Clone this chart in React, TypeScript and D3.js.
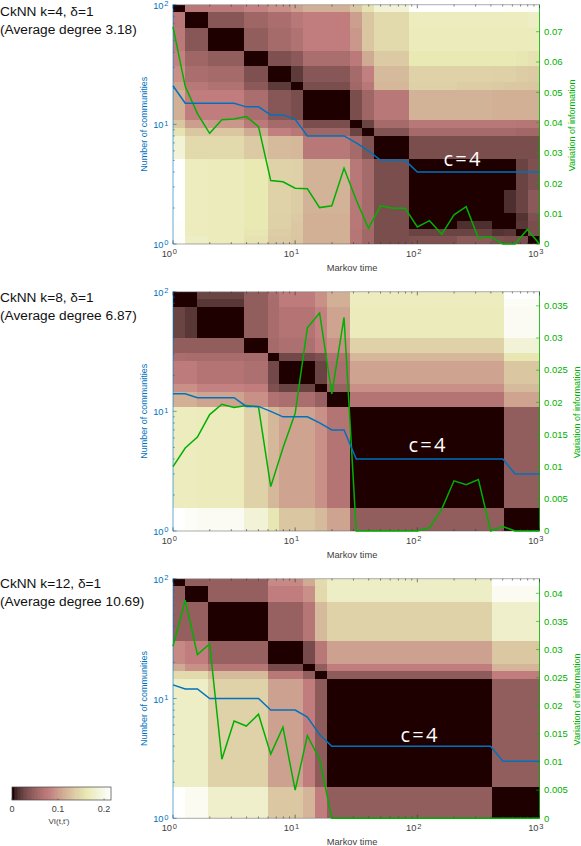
import React from 'react';
import * as d3 from 'd3';

const width = 581;
const height = 846;

const markovTimes = d3.range(31).map((i) => Math.pow(10, i / 10));

// panel 1, CkNN k=4
const title1 = ['CkNN k=4, δ=1', '(Average degree 3.18)'];
const communities1 = [21, 15, 15, 15, 15, 15, 14, 14, 12, 12, 11, 8, 8, 8, 8, 7, 6, 5, 5, 5, 4, 4, 4, 4, 4, 4, 4, 4, 4, 4, 4];
const variation1 = [0.0716, 0.052, 0.043, 0.0365, 0.041, 0.0412, 0.042, 0.0387, 0.0209, 0.0205, 0.0184, 0.0182, 0.012, 0.0126, 0.025, 0.0145, 0.0052, 0.0126, 0.0118, 0.0118, 0.0056, 0.0077, 0.0032, 0.0096, 0.0123, 0.0019, 0.0024, 0, 0, 0.0048, 0];
const ticks1 = [0, 0.01, 0.02, 0.03, 0.04, 0.05, 0.06, 0.07];
const edges1 = [0, 1, 3, 6, 8, 10, 11, 15, 16, 17, 20, 24, 27, 28, 29, 30, 31];
const vi1 = [
	[0, 0.071, 0.073, 0.082, 0.09, 0.101, 0.112, 0.129, 0.155, 0.183, 0.215, 0.215, 0.215, 0.212, 0.212, 0.21],
	[0, 0.037, 0.052, 0.06, 0.071, 0.077, 0.099, 0.129, 0.146, 0.168, 0.168, 0.168, 0.168, 0.168, 0.172],
	[0, 0.043, 0.056, 0.065, 0.077, 0.095, 0.129, 0.146, 0.166, 0.166, 0.166, 0.166, 0.166, 0.166],
	[0, 0.032, 0.039, 0.06, 0.073, 0.108, 0.133, 0.161, 0.161, 0.161, 0.161, 0.159, 0.155],
	[0, 0.017, 0.037, 0.056, 0.08, 0.12, 0.14, 0.14, 0.138, 0.138, 0.135, 0.133],
	[0, 0.03, 0.054, 0.071, 0.118, 0.138, 0.135, 0.133, 0.131, 0.131, 0.129],
	[0, 0.03, 0.052, 0.071, 0.114, 0.114, 0.112, 0.112, 0.112, 0.112],
	[0, 0.022, 0.056, 0.071, 0.071, 0.071, 0.071, 0.069, 0.069],
	[0, 0.034, 0.056, 0.056, 0.056, 0.056, 0.054, 0.054],
	[0, 0.03, 0.03, 0.03, 0.03, 0.03, 0.03],
	[0, 0, 0, 0, 0.022, 0.032],
	[0, 0, 0.011, 0.022, 0.039],
	[0, 0, 0.013, 0.032],
	[0, 0.015, 0.03],
	[0, 0.03],
	[0],
];

// panel 2, CkNN k=8
const title2 = ['CkNN k=8, δ=1', '(Average degree 6.87)'];
const communities2 = [14, 14, 13, 13, 13, 13, 11, 11, 10, 9, 9, 9, 8, 7, 7, 4, 4, 4, 4, 4, 4, 4, 4, 4, 4, 4, 4, 4, 3, 3, 3];
const variation2 = [0.01, 0.0129, 0.0146, 0.0181, 0.0197, 0.0192, 0.0195, 0.0193, 0.0069, 0.0129, 0.0183, 0.0316, 0.0339, 0.0213, 0.0332, 0, 0, 0, 0, 0, 0, 0.0005, 0.0034, 0.0078, 0.0072, 0.008, 0, 0.0007, 0, 0, 0];
const ticks2 = [0, 0.005, 0.01, 0.015, 0.02, 0.025, 0.03, 0.035];
const edges2 = [0, 1, 2, 6, 8, 9, 12, 13, 15, 28, 31];
const vi2 = [
	[0, 0, 0.022, 0.043, 0.06, 0.075, 0.09, 0.112, 0.168, 0.215],
	[0, 0.015, 0.043, 0.058, 0.075, 0.09, 0.112, 0.168, 0.209],
	[0, 0.043, 0.058, 0.067, 0.082, 0.103, 0.166, 0.206],
	[0, 0.056, 0.062, 0.077, 0.09, 0.14, 0.183],
	[0, 0.026, 0.032, 0.065, 0.118, 0.159],
	[0, 0.022, 0.06, 0.103, 0.129],
	[0, 0.047, 0.09, 0.12],
	[0, 0.067, 0.103],
	[0, 0.043],
	[0],
];

// panel 3, CkNN k=12
const title3 = ['CkNN k=12, δ=1', '(Average degree 10.69)'];
const communities3 = [13, 12, 12, 10, 10, 10, 10, 10, 8, 8, 8, 7, 5, 4, 4, 4, 4, 4, 4, 4, 4, 4, 4, 4, 4, 4, 4, 3, 3, 3, 3];
const variation3 = [0.0306, 0.0388, 0.0291, 0.031, 0.0105, 0.0173, 0.0164, 0.0185, 0.0114, 0.0162, 0.005, 0.0147, 0.0105, 0, 0, 0, 0, 0, 0, 0, 0, 0, 0, 0, 0, 0, 0, 0, 0, 0, 0];
const ticks3 = [0, 0.005, 0.01, 0.015, 0.02, 0.025, 0.03, 0.035, 0.04];
const edges3 = [0, 1, 3, 8, 11, 12, 13, 27, 31];
const vi3 = [
	[0, 0.043, 0.045, 0.086, 0.108, 0.148, 0.172, 0.215],
	[0, 0.045, 0.077, 0.09, 0.146, 0.172, 0.204],
	[0, 0.047, 0.069, 0.12, 0.14, 0.176],
	[0, 0.028, 0.071, 0.101, 0.131],
	[0, 0.043, 0.077, 0.116],
	[0, 0.041, 0.077],
	[0, 0.043],
	[0],
];

const colorbarTicks = [0, 0.1, 0.2];

const blue = '#0072BD';
const green = '#00B000';
const gray = '#404040';
const sans = '"Liberation Sans", Arial, sans-serif';

// matlab's pink colormap
const clamp = (v: number) => Math.min(1, Math.max(0, v));
const pink = (t: number) => {
	const r = Math.sqrt((2 * t + clamp((t + 0.0156) / 0.375)) / 3);
	const g = Math.sqrt((2 * t + clamp((t - 0.375) / 0.375)) / 3);
	const b = Math.sqrt((2 * t + clamp((t - 0.75) / 0.25)) / 3);
	return d3.rgb(r * 255, g * 255, b * 255).formatHex();
};
const color = d3.scaleSequential(pink).domain([0, 0.215]);

const left = 173;
const right = 539.5;

function Panel({ top, bottom, title, titleY, communities, variation, ticks, edges, vi, varMax, varLabelX }: any) {
	const xTime = d3.scaleLog().domain([1, 1000]).range([left, right]);
	const yCount = d3.scaleLog().domain([1, 100]).range([bottom, top]);
	const yVar = d3.scaleLinear().domain([0, varMax]).range([bottom, top]);
	const xCell = d3.scaleLinear().domain([0, 31]).range([left, right]);
	const yCell = d3.scaleLinear().domain([0, 31]).range([top, bottom]);

	const blueLine = d3.line<number>().x((_, i) => xTime(markovTimes[i])).y((d) => yCount(d));
	const greenLine = d3.line<number>().x((_, i) => xTime(markovTimes[i])).y((d) => yVar(d));

	const blocks: any[] = [];
	vi.forEach((row: number[], a: number) => {
		row.forEach((v, k) => {
			const b = a + k;
			blocks.push({ a, b, v });
			if (a !== b) blocks.push({ a: b, b: a, v });
		});
	});

	const majorTimes = [1, 10, 100, 1000];
	const majorCounts = [1, 10, 100];
	const isMajor = (t: number) => Math.abs(Math.log10(t) - Math.round(Math.log10(t))) < 1e-6;

	return (
		<g>
			<text fontFamily={sans} fontSize={13.7} fill="#111">
				<tspan x={0} y={titleY}>{title[0]}</tspan>
				<tspan x={0} y={titleY + 18}>{title[1]}</tspan>
			</text>

			{blocks.map((d, i) => (
				<rect
					key={i}
					x={xCell(edges[d.b])}
					y={yCell(edges[d.a])}
					width={xCell(edges[d.b + 1]) - xCell(edges[d.b])}
					height={yCell(edges[d.a + 1]) - yCell(edges[d.a])}
					fill={color(d.v)}
					shapeRendering="crispEdges"
				/>
			))}

			{/* box */}
			<line x1={left} x2={right} y1={top} y2={top} stroke="#888" strokeWidth={0.7} />
			<line x1={left} x2={right} y1={bottom} y2={bottom} stroke="#555" strokeWidth={0.5} />
			<line x1={left} x2={left} y1={top} y2={bottom} stroke={blue} strokeOpacity={0.6} strokeWidth={1} />
			<line x1={right} x2={right} y1={top} y2={bottom} stroke={green} strokeWidth={0.8} />

			{/* time ticks */}
			{xTime.ticks().map((t) => (
				<g key={t} stroke="#333" strokeWidth={0.6}>
					<line x1={xTime(t)} x2={xTime(t)} y1={bottom} y2={bottom - (isMajor(t) ? 3.6 : 1.8)} />
					<line x1={xTime(t)} x2={xTime(t)} y1={top} y2={top + (isMajor(t) ? 3.6 : 1.8)} />
				</g>
			))}
			{majorTimes.map((t) => (
				<text key={t} x={xTime(t) + 4} y={bottom + 13} fontFamily={sans} fontSize={9.3} fill={gray} textAnchor="end">
					10
					<tspan dy={-2.8} dx={0.8} fontSize={7.5}>{Math.round(Math.log10(t))}</tspan>
				</text>
			))}
			<text x={352} y={bottom + 27} fontFamily={sans} fontSize={9.3} fill={gray} textAnchor="middle">
				Markov time
			</text>

			{/* communities axis */}
			{yCount.ticks().map((c) => (
				<line key={c} x1={left} x2={left + (isMajor(c) ? 3.6 : 1.8)} y1={yCount(c)} y2={yCount(c)} stroke={blue} strokeWidth={0.6} />
			))}
			{majorCounts.map((c) => (
				<text key={c} x={left - 4.5} y={yCount(c) + 4} fontFamily={sans} fontSize={9.3} fill={blue} textAnchor="end">
					10
					<tspan dy={-2.8} dx={0.8} fontSize={7.5}>{Math.round(Math.log10(c))}</tspan>
				</text>
			))}
			<text
				transform={`translate(147,${(top + bottom) / 2}) rotate(-90)`}
				fontFamily={sans}
				fontSize={9}
				fill={blue}
				textAnchor="middle"
			>
				Number of communities
			</text>

			{/* variation axis */}
			{ticks.map((v: number) => (
				<g key={v}>
					<line x1={right - 3.6} x2={right} y1={yVar(v)} y2={yVar(v)} stroke={green} strokeWidth={0.6} />
					<text x={right + 4.5} y={yVar(v) + 3.3} fontFamily={sans} fontSize={9.5} fill={green}>
						{v}
					</text>
				</g>
			))}
			<text
				transform={`translate(${varLabelX},${(top + bottom) / 2 + 1}) rotate(-90)`}
				fontFamily={sans}
				fontSize={9}
				fill={green}
				textAnchor="middle"
			>
				Variation of information
			</text>

			<path d={greenLine(variation) as string} fill="none" stroke={green} strokeWidth={1.5} />
			<path d={blueLine(communities) as string} fill="none" stroke={blue} strokeWidth={1.5} />
		</g>
	);
}

function CLabel({ x, y }: any) {
	return (
		<text x={x} y={y} fontFamily={'"Open Sans", sans-serif'} fontSize={20} letterSpacing={2.2} fill="#fff" textAnchor="middle">
			c=4
		</text>
	);
}

function App() {
	const barScale = d3.scaleLinear().domain([0, 0.215]).range([12, 111]);
	const barSteps = d3.range(0, 0.215, 0.215 / 64);

	return (
		<svg width={width} height={height} style={{ position: 'absolute', left: 0, top: 0 }}>
			<Panel top={4.7} bottom={244} title={title1} titleY={16} communities={communities1} variation={variation1} ticks={ticks1} edges={edges1} vi={vi1} varMax={0.0789} varLabelX={575} />
			<Panel top={291.7} bottom={531} title={title2} titleY={302} communities={communities2} variation={variation2} ticks={ticks2} edges={edges2} vi={vi2} varMax={0.0372} varLabelX={580} />
			<Panel top={578.7} bottom={818.3} title={title3} titleY={588} communities={communities3} variation={variation3} ticks={ticks3} edges={edges3} vi={vi3} varMax={0.0426} varLabelX={580} />

			<CLabel x={463} y={165.5} />
			<CLabel x={428} y={451.5} />
			<CLabel x={420} y={742} />

			{barSteps.map((v) => (
				<rect key={v} x={barScale(v)} y={787} width={99 / 64 + 0.5} height={13} fill={color(v)} shapeRendering="crispEdges" />
			))}
			<rect x={12} y={787} width={99} height={13} fill="none" stroke="#444" strokeWidth={0.7} />
			{colorbarTicks.map((v) => (
				<g key={v}>
					<line x1={barScale(v)} x2={barScale(v)} y1={800} y2={798.5} stroke="#444" strokeWidth={0.6} />
					<text x={barScale(v)} y={812} fontFamily={sans} fontSize={9} fill={gray} textAnchor="middle">
						{v}
					</text>
				</g>
			))}
			<text x={59} y={824} fontFamily={sans} fontSize={8} fill={gray} textAnchor="middle">VI(t,t')</text>
		</svg>
	);
}

export default App;
